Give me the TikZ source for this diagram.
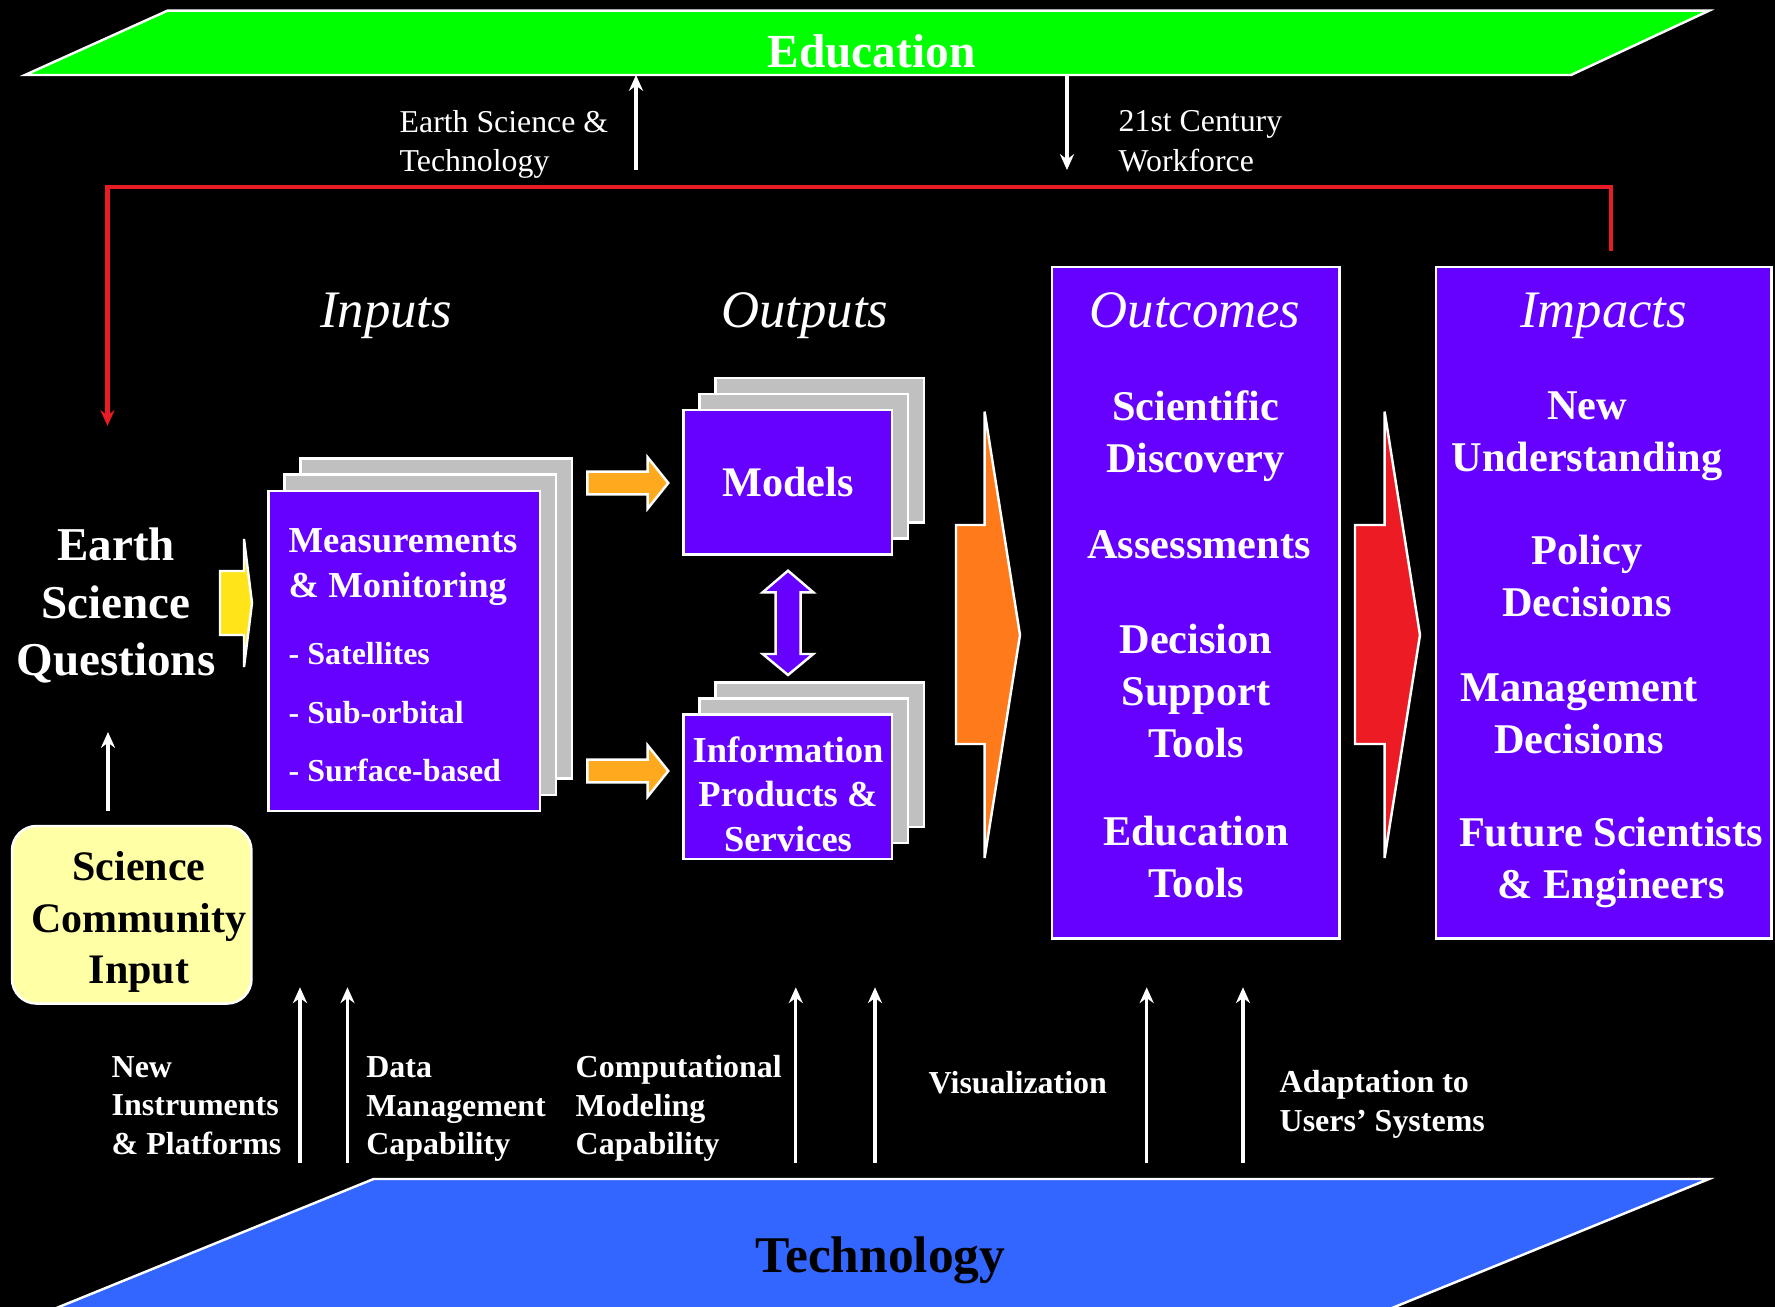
\documentclass[tikz,border=0pt]{standalone}
\usepackage{fontspec}
\setmainfont{Liberation Serif}
\usetikzlibrary{arrows.meta,calc}

\definecolor{edugreen}{RGB}{0,255,0}
\definecolor{techblue}{RGB}{51,102,255}
\definecolor{boxviolet}{RGB}{102,0,255}
\definecolor{sheetgray}{RGB}{192,192,192}
\definecolor{loopred}{RGB}{232,28,36}
\definecolor{chalk}{RGB}{255,255,165}
\definecolor{askyellow}{RGB}{255,228,26}
\definecolor{feedorange}{RGB}{255,170,30}
\definecolor{bigorange}{RGB}{255,122,26}
\definecolor{bigred}{RGB}{237,28,36}

\tikzset{
  >={Stealth[length=4.5pt,width=4pt]},
  rim/.style={draw=white, line width=0.7pt},
  sheet/.style={rim, fill=sheetgray, inner sep=0pt},
  frontbox/.style={rim, fill=boxviolet, rectangle, inner sep=0pt},
  measbox/.style={minimum width=27.15mm, minimum height=32.02mm},
  outbox/.style={minimum width=20.84mm, minimum height=14.46mm},
  feed/.style={draw=white, line width=0.9pt, ->},
  plainlbl/.style={text=white, inner sep=0pt, align=left, font=\fontsize{9.05}{11.2}\selectfont},
  footlbl/.style={text=white, inner sep=0pt, align=left, font=\bfseries\fontsize{9.1}{11}\selectfont},
  colhead/.style={text=white, inner sep=0pt, font=\itshape\fontsize{15}{18}\selectfont},
  colitem/.style={text=white, inner sep=0pt, align=center, font=\bfseries\fontsize{12.05}{14.8}\selectfont},
}

\begin{document}
\begin{tikzpicture}[x=0.1mm,y=-0.1mm]
\useasboundingbox (0,0) rectangle (1775,1307);
\clip (0,0) rectangle (1775,1307);
\fill[black] (0,0) rectangle (1775,1307);

% education and technology bands
\draw[rim, fill=edugreen] (25,75) -- (167.5,10.7) -- (1709,10.7) -- (1571,75) -- cycle;
\node[text=white, inner sep=0pt, anchor=base, font=\bfseries\fontsize{13.5}{16}\selectfont] (edu) at (871.5,68) {Education};
\draw[rim, fill=techblue] (27,1320) -- (373.6,1179) -- (1709,1179) -- (1362.6,1320) -- cycle;
\node[text=black, inner sep=0pt, anchor=base, font=\bfseries\fontsize{14.65}{18}\selectfont] (tech) at (880.5,1273) {Technology};

\coordinate (estfoot) at (636,170);
\coordinate (estup) at (636,75);
\coordinate (wfdown) at (1067,75);
\coordinate (wffoot) at (1067,170);
\draw[feed] (estfoot) -- (estup);
\draw[feed] (wfdown) -- (wffoot);
\node[plainlbl, anchor=west] (estlbl) at (399,144.7) {Earth Science \&\\Technology};
\node[plainlbl, anchor=west] (wflbl) at (1118,141.1) {21st Century\\Workforce};

% feedback loop
\coordinate (loopfrom) at (1611,250.7);
\coordinate (loopturn) at (1611,187);
\coordinate (loopto) at (107.5,426);
\draw[loopred, line width=1.2pt, ->] (loopfrom) -- (loopturn) -| (loopto);

\node[colhead, anchor=base] (inputs) at (386,328) {Inputs};
\node[colhead, anchor=base] (outputs) at (805,328) {Outputs};

% questions
\node[text=white, inner sep=0pt, align=center, font=\bfseries\fontsize{13.4}{16.4}\selectfont] (questions) at (116,605.5) {Earth\\Science\\Questions};
\draw[rim, fill=askyellow] (220,571) -- (244,571) -- (244,539) -- (252,603) -- (244,667) -- (244,635) -- (220,635) -- cycle;
\node[rim, fill=chalk, rounded corners=7pt, minimum width=23.95mm, minimum height=17.76mm, inner sep=0pt] (community) at (131.75,914.8) {};
\node[inner sep=0pt, align=center, font=\bfseries\fontsize{11.95}{14.75}\selectfont] (communitytxt) at (139,922) {Science\\Community\\Input};
\coordinate (askfoot) at (108,811);
\coordinate (asktop) at (108,732);
\draw[feed] (askfoot) -- (asktop);

% inputs
\foreach \k in {2,1}
  \node[sheet, measbox] (measback\k) at ({404.25+16*\k},{650.9-16.2*\k}) {};
\node[frontbox, measbox] (meas) at (404.25,650.9) {};
\node[text=white, inner sep=0pt, anchor=west, align=left, font=\bfseries\fontsize{10.4}{12.75}\selectfont] (meashead) at (288,566.8) {Measurements\\\& Monitoring};
\node[text=white, inner sep=0pt, anchor=base west, font=\bfseries\fontsize{9.1}{11}\selectfont] (sat) at (288,664.8) {- Satellites};
\node[text=white, inner sep=0pt, anchor=base west, font=\bfseries\fontsize{9.1}{11}\selectfont] (suborb) at (288,723.3) {- Sub-orbital};
\node[text=white, inner sep=0pt, anchor=base west, font=\bfseries\fontsize{9.1}{11}\selectfont] (surf) at (288,781.5) {- Surface-based};

% outputs
\foreach \k in {2,1} {
  \node[sheet, outbox] (modback\k) at ({787.8+16*\k},{482.25-16*\k}) {};
  \node[sheet, outbox] (infoback\k) at ({787.8+16*\k},{786.85-16*\k}) {};
}
\node[frontbox, outbox, text=white, font=\bfseries\fontsize{12}{14}\selectfont] (models) at (787.8,482.25) {Models};
\node[frontbox, outbox] (info) at (787.8,786.85) {};
\node[text=white, inner sep=0pt, align=center, font=\bfseries\fontsize{10.4}{12.65}\selectfont] (infotxt) at (788,794) {Information\\Products \&\\Services};
\draw[rim, fill=feedorange, shift={(587.3,483)}] (0,-11.3) -- (60.4,-11.3) -- (60.4,-25.7) -- (81,0) -- (60.4,25.7) -- (60.4,11.3) -- (0,11.3) -- cycle;
\draw[rim, fill=feedorange, shift={(587.3,771)}] (0,-11.3) -- (60.4,-11.3) -- (60.4,-25.7) -- (81,0) -- (60.4,25.7) -- (60.4,11.3) -- (0,11.3) -- cycle;
\draw[rim, fill=boxviolet] (788,570.7) -- (813.3,592.3) -- (800.7,592.3) -- (800.7,654) -- (813.3,654) -- (788,675) -- (762.7,654) -- (775.7,654) -- (775.7,592.3) -- (762.7,592.3) -- cycle;

% big arrows
\draw[rim, fill=bigorange] (956,525) -- (984.6,525) -- (984.6,411.6) -- (1020,635) -- (984.6,858) -- (984.6,744) -- (956,744) -- cycle;
\draw[rim, fill=bigred] (1355,525) -- (1384.6,525) -- (1384.6,411.6) -- (1420,635) -- (1384.6,858) -- (1384.6,744) -- (1355,744) -- cycle;

% outcomes
\node[frontbox, minimum width=28.75mm, minimum height=67.15mm] (outcomes) at (1195.75,602.75) {};
\node[colhead, anchor=base] (outhead) at (1195,328) {Outcomes};
\node[colitem] (sci) at (1195.5,436) {Scientific\\Discovery};
\node[colitem, anchor=base] (assess) at (1199,559) {Assessments};
\node[colitem] (dst) at (1196,690.9) {Decision\\Support\\Tools};
\node[colitem] (edtools) at (1196,857.4) {Education\\Tools};

% impacts
\node[frontbox, minimum width=33.55mm, minimum height=67.15mm] (impacts) at (1603.75,602.75) {};
\node[colhead, anchor=base] (imphead) at (1603.5,328) {Impacts};
\node[colitem] (newund) at (1587,436) {New\\Understanding};
\node[colitem] (policy) at (1587,575.9) {Policy\\Decisions};
\node[colitem] (mgmt) at (1579,713.9) {Management\\Decisions};
\node[colitem] (future) at (1611,862) {Future Scientists\\\& Engineers};

% technology feeds
\foreach \x [count=\i] in {300,347.5,795.8,875,1146.7,1243} {
  \coordinate (lift\i) at (\x,1162.7);
  \coordinate (reach\i) at (\x,987.3);
  \draw[feed] (lift\i) -- (reach\i);
}
\node[footlbl, anchor=west] (newinst) at (111,1105.5) {New\\Instruments\\\& Platforms};
\node[footlbl, anchor=west] (datamgmt) at (365.6,1109) {Data\\Management\\Capability};
\node[footlbl, anchor=west] (compmod) at (575,1108.5) {Computational\\Modeling\\Capability};
\node[footlbl, anchor=base west] (visual) at (928,1093.5) {Visualization};
\node[footlbl, anchor=west] (adapt) at (1279,1104.5) {Adaptation to\\Users’ Systems};
\end{tikzpicture}
\end{document}
